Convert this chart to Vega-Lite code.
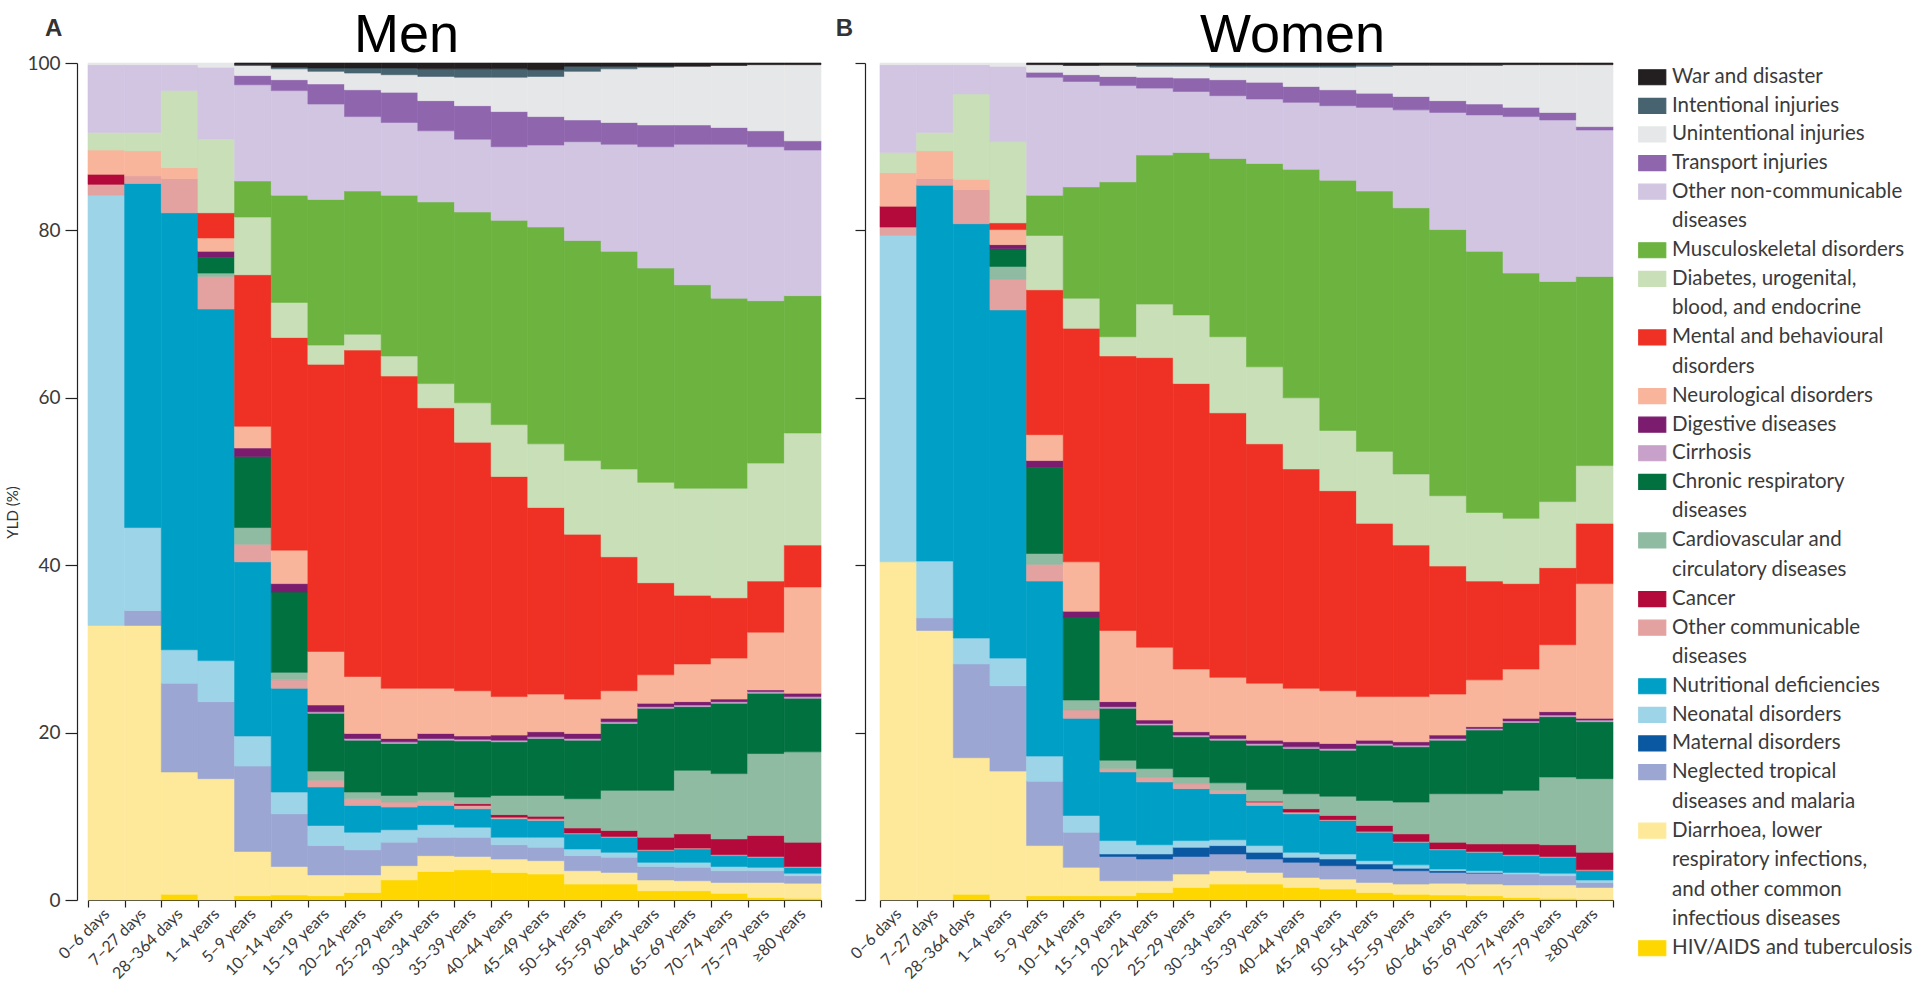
{
"$schema": "https://vega.github.io/schema/vega-lite/v6.json",
"background": "white",
"padding": {"left": 5, "top": 8, "right": 0, "bottom": 0},
"datasets": {
"causes": [
{"k":"W","name":"War and disaster"},
{"k":"I","name":"Intentional injuries"},
{"k":"U","name":"Unintentional injuries"},
{"k":"T","name":"Transport injuries"},
{"k":"NC","name":"Other non-communicable|diseases"},
{"k":"Mu","name":"Musculoskeletal disorders"},
{"k":"Db","name":"Diabetes, urogenital,|blood, and endocrine"},
{"k":"Me","name":"Mental and behavioural|disorders"},
{"k":"Nr","name":"Neurological disorders"},
{"k":"Dg","name":"Digestive diseases"},
{"k":"Ci","name":"Cirrhosis"},
{"k":"CR","name":"Chronic respiratory|diseases"},
{"k":"Cv","name":"Cardiovascular and|circulatory diseases"},
{"k":"Ca","name":"Cancer"},
{"k":"OC","name":"Other communicable|diseases"},
{"k":"Nu","name":"Nutritional deficiencies"},
{"k":"Ne","name":"Neonatal disorders"},
{"k":"Ma","name":"Maternal disorders"},
{"k":"N","name":"Neglected tropical|diseases and malaria"},
{"k":"D","name":"Diarrhoea, lower|respiratory infections,|and other common|infectious diseases"},
{"k":"H","name":"HIV/AIDS and tuberculosis"}
],
"yld": [
{"sex":"Men","age":"0–6 days","H":0,"D":32.8,"N":0,"Ma":0,"Ne":51.4,"Nu":0,"OC":1.3,"Ca":1.2,"Cv":0,"CR":0,"Ci":0,"Dg":0,"Nr":2.9,"Me":0,"Db":2.1,"Mu":0,"NC":8.1,"T":0,"U":0.2,"I":0,"W":0},
{"sex":"Men","age":"7–27 days","H":0,"D":32.8,"N":1.8,"Ma":0,"Ne":9.9,"Nu":41.1,"OC":0.9,"Ca":0,"Cv":0,"CR":0,"Ci":0,"Dg":0,"Nr":3.0,"Me":0,"Db":2.2,"Mu":0,"NC":8.1,"T":0,"U":0.2,"I":0,"W":0},
{"sex":"Men","age":"28–364 days","H":0.7,"D":14.6,"N":10.6,"Ma":0,"Ne":4.0,"Nu":52.2,"OC":4.1,"Ca":0,"Cv":0,"CR":0,"Ci":0,"Dg":0,"Nr":1.3,"Me":0,"Db":9.2,"Mu":0,"NC":3.1,"T":0,"U":0.2,"I":0,"W":0},
{"sex":"Men","age":"1–4 years","H":0,"D":14.5,"N":9.2,"Ma":0,"Ne":4.9,"Nu":42.0,"OC":3.9,"Ca":0,"Cv":0.4,"CR":1.9,"Ci":0,"Dg":0.7,"Nr":1.6,"Me":3.0,"Db":8.8,"Mu":0,"NC":8.6,"T":0,"U":0.5,"I":0,"W":0},
{"sex":"Men","age":"5–9 years","H":0.5,"D":5.3,"N":10.2,"Ma":0,"Ne":3.6,"Nu":20.8,"OC":2.1,"Ca":0,"Cv":2.0,"CR":8.5,"Ci":0,"Dg":1.0,"Nr":2.6,"Me":18.1,"Db":6.9,"Mu":4.3,"NC":11.5,"T":1.1,"U":1.2,"I":0.1,"W":0.2},
{"sex":"Men","age":"10–14 years","H":0.6,"D":3.4,"N":6.3,"Ma":0,"Ne":2.6,"Nu":12.4,"OC":1.0,"Ca":0,"Cv":0.9,"CR":9.6,"Ci":0,"Dg":1.0,"Nr":4.0,"Me":25.4,"Db":4.2,"Mu":12.8,"NC":12.5,"T":1.3,"U":1.3,"I":0.2,"W":0.5},
{"sex":"Men","age":"15–19 years","H":0.5,"D":2.5,"N":3.5,"Ma":0,"Ne":2.4,"Nu":4.6,"OC":0.8,"Ca":0,"Cv":1.1,"CR":6.9,"Ci":0.2,"Dg":0.8,"Nr":6.4,"Me":34.3,"Db":2.3,"Mu":17.4,"NC":11.4,"T":2.4,"U":1.5,"I":0.4,"W":0.6},
{"sex":"Men","age":"20–24 years","H":0.9,"D":2.1,"N":3.0,"Ma":0,"Ne":2.1,"Nu":3.2,"OC":0.8,"Ca":0,"Cv":0.8,"CR":6.2,"Ci":0.2,"Dg":0.6,"Nr":6.8,"Me":39.0,"Db":1.9,"Mu":17.1,"NC":8.9,"T":3.2,"U":2.0,"I":0.6,"W":0.6},
{"sex":"Men","age":"25–29 years","H":2.4,"D":1.7,"N":2.8,"Ma":0,"Ne":1.5,"Nu":2.7,"OC":0.6,"Ca":0,"Cv":0.8,"CR":6.2,"Ci":0.2,"Dg":0.4,"Nr":6.0,"Me":37.3,"Db":2.4,"Mu":19.2,"NC":8.7,"T":3.6,"U":2.1,"I":0.8,"W":0.6},
{"sex":"Men","age":"30–34 years","H":3.4,"D":1.9,"N":2.2,"Ma":0,"Ne":1.5,"Nu":2.3,"OC":0.6,"Ca":0,"Cv":1.0,"CR":6.2,"Ci":0.2,"Dg":0.6,"Nr":5.4,"Me":33.5,"Db":2.9,"Mu":21.7,"NC":8.5,"T":3.6,"U":2.9,"I":0.9,"W":0.7},
{"sex":"Men","age":"35–39 years","H":3.6,"D":1.6,"N":2.3,"Ma":0,"Ne":1.2,"Nu":2.2,"OC":0.4,"Ca":0.2,"Cv":0.8,"CR":6.7,"Ci":0.2,"Dg":0.4,"Nr":5.4,"Me":29.7,"Db":4.7,"Mu":22.8,"NC":8.7,"T":4.0,"U":3.4,"I":1.0,"W":0.7},
{"sex":"Men","age":"40–44 years","H":3.3,"D":1.6,"N":1.7,"Ma":0,"Ne":0.9,"Nu":2.2,"OC":0.2,"Ca":0.3,"Cv":2.3,"CR":6.4,"Ci":0.2,"Dg":0.6,"Nr":4.6,"Me":26.3,"Db":6.2,"Mu":24.4,"NC":8.8,"T":4.2,"U":4.1,"I":1.0,"W":0.7},
{"sex":"Men","age":"45–49 years","H":3.1,"D":1.6,"N":1.6,"Ma":0,"Ne":1.2,"Nu":2.0,"OC":0.2,"Ca":0.3,"Cv":2.5,"CR":6.8,"Ci":0.2,"Dg":0.6,"Nr":4.5,"Me":22.3,"Db":7.6,"Mu":25.9,"NC":9.8,"T":3.4,"U":4.8,"I":0.8,"W":0.8},
{"sex":"Men","age":"50–54 years","H":1.9,"D":1.6,"N":1.8,"Ma":0,"Ne":0.8,"Nu":1.8,"OC":0.1,"Ca":0.6,"Cv":3.5,"CR":7.0,"Ci":0.2,"Dg":0.6,"Nr":4.1,"Me":19.7,"Db":8.8,"Mu":26.3,"NC":11.8,"T":2.6,"U":5.8,"I":0.6,"W":0.4},
{"sex":"Men","age":"55–59 years","H":1.9,"D":1.4,"N":1.8,"Ma":0,"Ne":0.6,"Nu":1.8,"OC":0.1,"Ca":0.7,"Cv":4.8,"CR":8.0,"Ci":0.2,"Dg":0.4,"Nr":3.3,"Me":16.0,"Db":10.5,"Mu":26.0,"NC":12.8,"T":2.6,"U":6.4,"I":0.3,"W":0.4},
{"sex":"Men","age":"60–64 years","H":1.1,"D":1.3,"N":1.6,"Ma":0,"Ne":0.5,"Nu":1.4,"OC":0.1,"Ca":1.5,"Cv":5.6,"CR":9.8,"Ci":0.2,"Dg":0.4,"Nr":3.4,"Me":11.0,"Db":12.0,"Mu":25.6,"NC":14.5,"T":2.6,"U":6.9,"I":0.1,"W":0.4},
{"sex":"Men","age":"65–69 years","H":1.1,"D":1.2,"N":1.6,"Ma":0,"Ne":0.6,"Nu":1.6,"OC":0.1,"Ca":1.7,"Cv":7.6,"CR":7.6,"Ci":0.2,"Dg":0.4,"Nr":4.5,"Me":8.2,"Db":12.8,"Mu":24.3,"NC":16.8,"T":2.3,"U":7.0,"I":0,"W":0.4},
{"sex":"Men","age":"70–74 years","H":0.8,"D":1.3,"N":1.4,"Ma":0,"Ne":0.5,"Nu":1.3,"OC":0.1,"Ca":1.9,"Cv":7.8,"CR":8.4,"Ci":0.2,"Dg":0.3,"Nr":4.9,"Me":7.2,"Db":13.1,"Mu":22.7,"NC":18.4,"T":2.0,"U":7.4,"I":0,"W":0.3},
{"sex":"Men","age":"75–79 years","H":0.3,"D":1.8,"N":1.4,"Ma":0,"Ne":0.4,"Nu":1.2,"OC":0.1,"Ca":2.5,"Cv":9.8,"CR":7.2,"Ci":0.2,"Dg":0.2,"Nr":6.9,"Me":6.1,"Db":14.1,"Mu":19.4,"NC":18.4,"T":1.9,"U":7.9,"I":0,"W":0.2},
{"sex":"Men","age":"≥80 years","H":0.2,"D":1.8,"N":0.9,"Ma":0,"Ne":0.3,"Nu":0.7,"OC":0.1,"Ca":2.9,"Cv":10.8,"CR":6.4,"Ci":0.2,"Dg":0.4,"Nr":12.7,"Me":5.0,"Db":13.4,"Mu":16.4,"NC":17.4,"T":1.1,"U":9.1,"I":0,"W":0.2},
{"sex":"Women","age":"0–6 days","H":0,"D":40.4,"N":0,"Ma":0,"Ne":39.0,"Nu":0,"OC":1.0,"Ca":2.5,"Cv":0,"CR":0,"Ci":0,"Dg":0,"Nr":4.0,"Me":0,"Db":2.4,"Mu":0,"NC":10.5,"T":0,"U":0.2,"I":0,"W":0},
{"sex":"Women","age":"7–27 days","H":0,"D":32.2,"N":1.5,"Ma":0,"Ne":6.8,"Nu":44.9,"OC":0.8,"Ca":0,"Cv":0,"CR":0,"Ci":0,"Dg":0,"Nr":3.3,"Me":0,"Db":2.2,"Mu":0,"NC":8.1,"T":0,"U":0.2,"I":0,"W":0},
{"sex":"Women","age":"28–364 days","H":0.7,"D":16.3,"N":11.2,"Ma":0,"Ne":3.1,"Nu":49.5,"OC":4.1,"Ca":0,"Cv":0,"CR":0,"Ci":0,"Dg":0,"Nr":1.2,"Me":0,"Db":10.2,"Mu":0,"NC":3.5,"T":0,"U":0.2,"I":0,"W":0},
{"sex":"Women","age":"1–4 years","H":0,"D":15.4,"N":10.2,"Ma":0,"Ne":3.3,"Nu":41.6,"OC":3.7,"Ca":0,"Cv":1.5,"CR":2.1,"Ci":0,"Dg":0.5,"Nr":1.8,"Me":0.8,"Db":9.7,"Mu":0,"NC":9.0,"T":0,"U":0.4,"I":0,"W":0},
{"sex":"Women","age":"5–9 years","H":0.5,"D":6.0,"N":7.7,"Ma":0,"Ne":3.0,"Nu":20.9,"OC":2.0,"Ca":0,"Cv":1.3,"CR":10.3,"Ci":0,"Dg":0.8,"Nr":3.1,"Me":17.3,"Db":6.5,"Mu":4.8,"NC":14.1,"T":0.6,"U":0.9,"I":0,"W":0.2},
{"sex":"Women","age":"10–14 years","H":0.5,"D":3.4,"N":4.2,"Ma":0,"Ne":2.0,"Nu":11.6,"OC":1.0,"Ca":0,"Cv":1.2,"CR":9.9,"Ci":0,"Dg":0.7,"Nr":5.9,"Me":27.9,"Db":3.6,"Mu":13.3,"NC":12.6,"T":0.8,"U":1.1,"I":0,"W":0.3},
{"sex":"Women","age":"15–19 years","H":0.5,"D":1.8,"N":2.9,"Ma":0.3,"Ne":1.6,"Nu":8.2,"OC":0.4,"Ca":0,"Cv":1.0,"CR":6.2,"Ci":0.2,"Dg":0.6,"Nr":8.5,"Me":32.8,"Db":2.3,"Mu":18.5,"NC":11.5,"T":1.1,"U":1.3,"I":0.1,"W":0.2},
{"sex":"Women","age":"20–24 years","H":0.9,"D":1.4,"N":2.6,"Ma":0.6,"Ne":1.1,"Nu":7.5,"OC":0.6,"Ca":0,"Cv":1.0,"CR":5.2,"Ci":0.2,"Dg":0.4,"Nr":8.7,"Me":34.6,"Db":6.4,"Mu":17.8,"NC":8.0,"T":1.3,"U":1.3,"I":0.2,"W":0.2},
{"sex":"Women","age":"25–29 years","H":1.5,"D":1.6,"N":2.1,"Ma":1.1,"Ne":0.8,"Nu":6.2,"OC":0.6,"Ca":0,"Cv":0.8,"CR":4.8,"Ci":0.2,"Dg":0.4,"Nr":7.5,"Me":34.1,"Db":8.2,"Mu":19.4,"NC":7.3,"T":1.6,"U":1.4,"I":0.2,"W":0.2},
{"sex":"Women","age":"30–34 years","H":1.9,"D":1.6,"N":2.0,"Ma":1.0,"Ne":0.7,"Nu":5.5,"OC":0.4,"Ca":0,"Cv":0.9,"CR":5.1,"Ci":0.2,"Dg":0.4,"Nr":6.9,"Me":31.6,"Db":9.1,"Mu":21.3,"NC":7.5,"T":1.9,"U":1.5,"I":0.2,"W":0.3},
{"sex":"Women","age":"35–39 years","H":1.9,"D":1.4,"N":1.6,"Ma":0.8,"Ne":0.8,"Nu":4.8,"OC":0.4,"Ca":0.1,"Cv":1.4,"CR":5.3,"Ci":0.2,"Dg":0.4,"Nr":6.8,"Me":28.6,"Db":9.2,"Mu":24.3,"NC":7.7,"T":2.0,"U":1.8,"I":0.2,"W":0.3},
{"sex":"Women","age":"40–44 years","H":1.5,"D":1.2,"N":1.8,"Ma":0.6,"Ne":0.6,"Nu":4.6,"OC":0.2,"Ca":0.4,"Cv":1.8,"CR":5.4,"Ci":0.2,"Dg":0.6,"Nr":6.4,"Me":26.2,"Db":8.5,"Mu":27.3,"NC":8.0,"T":1.9,"U":2.3,"I":0.2,"W":0.3},
{"sex":"Women","age":"45–49 years","H":1.3,"D":1.2,"N":1.6,"Ma":0.8,"Ne":0.6,"Nu":4.0,"OC":0.1,"Ca":0.5,"Cv":2.3,"CR":5.5,"Ci":0.2,"Dg":0.6,"Nr":6.3,"Me":23.9,"Db":7.2,"Mu":29.9,"NC":8.9,"T":1.9,"U":2.7,"I":0.2,"W":0.3},
{"sex":"Women","age":"50–54 years","H":0.9,"D":1.2,"N":1.6,"Ma":0.6,"Ne":0.4,"Nu":3.4,"OC":0.1,"Ca":0.7,"Cv":3.0,"CR":6.6,"Ci":0.2,"Dg":0.4,"Nr":5.2,"Me":20.7,"Db":8.6,"Mu":31.1,"NC":10.0,"T":1.7,"U":3.2,"I":0.2,"W":0.2},
{"sex":"Women","age":"55–59 years","H":0.7,"D":1.2,"N":1.6,"Ma":0.3,"Ne":0.4,"Nu":2.7,"OC":0.1,"Ca":0.9,"Cv":3.8,"CR":6.6,"Ci":0.2,"Dg":0.4,"Nr":5.4,"Me":18.1,"Db":8.5,"Mu":31.8,"NC":11.7,"T":1.6,"U":3.7,"I":0.1,"W":0.2},
{"sex":"Women","age":"60–64 years","H":0.6,"D":1.4,"N":1.3,"Ma":0.2,"Ne":0.2,"Nu":2.3,"OC":0.1,"Ca":0.8,"Cv":5.8,"CR":6.4,"Ci":0.2,"Dg":0.4,"Nr":4.9,"Me":15.3,"Db":8.4,"Mu":31.8,"NC":14.0,"T":1.4,"U":4.2,"I":0.1,"W":0.2},
{"sex":"Women","age":"65–69 years","H":0.5,"D":1.4,"N":1.3,"Ma":0.1,"Ne":0.2,"Nu":2.2,"OC":0.1,"Ca":0.9,"Cv":6.0,"CR":7.6,"Ci":0.2,"Dg":0.2,"Nr":5.6,"Me":11.8,"Db":8.2,"Mu":31.2,"NC":16.3,"T":1.3,"U":4.6,"I":0.1,"W":0.2},
{"sex":"Women","age":"70–74 years","H":0.3,"D":1.5,"N":1.3,"Ma":0,"Ne":0.2,"Nu":2.0,"OC":0.1,"Ca":1.3,"Cv":6.4,"CR":8.1,"Ci":0.2,"Dg":0.3,"Nr":5.9,"Me":10.2,"Db":7.8,"Mu":29.3,"NC":18.7,"T":1.1,"U":5.1,"I":0,"W":0.2},
{"sex":"Women","age":"75–79 years","H":0.2,"D":1.6,"N":1.1,"Ma":0,"Ne":0.3,"Nu":1.9,"OC":0.1,"Ca":1.4,"Cv":8.1,"CR":7.2,"Ci":0.2,"Dg":0.4,"Nr":8.0,"Me":9.2,"Db":7.9,"Mu":26.3,"NC":19.3,"T":0.9,"U":5.7,"I":0,"W":0.2},
{"sex":"Women","age":"≥80 years","H":0.1,"D":1.4,"N":0.6,"Ma":0,"Ne":0.3,"Nu":1.1,"OC":0.1,"Ca":2.1,"Cv":8.8,"CR":6.8,"Ci":0.2,"Dg":0.2,"Nr":16.1,"Me":7.2,"Db":6.9,"Mu":22.6,"NC":17.5,"T":0.4,"U":7.4,"I":0,"W":0.2}
]
},
"config": {
"view": {"stroke": null},
"font": "Lato",
"axis": {"grid": false, "domainColor": "#222", "tickColor": "#222", "labelColor": "#3a3a3a", "labelFont": "Lato", "titleFont": "Lato", "domainWidth": 1.2, "tickWidth": 1.2},
"title": {"font": "Liberation Sans", "color": "#000"},
"concat": {"spacing": 13},
"legend": {
"orient": "right", "offset": 24, "padding": 4, "title": null,
"symbolType": "M-1.8,-1H1.8V1H-1.8Z", "symbolSize": 225, "symbolStrokeColor": "#444", "symbolStrokeWidth": 1.2, "symbolOpacity": 1, "symbolFillOpacity": 1,
"labelFont": "Lato", "labelFontSize": 20.5, "labelColor": "#3a3a3a", "labelLimit": 400, "labelOffset": 9.5,
"rowPadding": 7.6
}
},
"hconcat": [
{
"title": {"text": "A", "anchor": "start", "fontSize": 24, "fontWeight": "bold", "color": "#333", "offset": -32, "dx": 39},
"vconcat": [
{
"title": {"text": "Men", "fontSize": 54, "fontWeight": "normal", "frame": "group", "dx": -48, "offset": -9},
"width": 733, "height": 837,
"data": {"name": "yld"},
"transform": [
{"filter": "datum.sex === 'Men'"},
{"fold": ["H","D","N","Ma","Ne","Nu","OC","Ca","Cv","CR","Ci","Dg","Nr","Me","Db","Mu","NC","T","U","I","W"], "as": ["k","v"]},
{"filter": "datum.v > 0"},
{"lookup": "k", "from": {"data": {"name": "causes"}, "key": "k", "fields": ["name"]}},
{"calculate": "indexof(['H','D','N','Ma','Ne','Nu','OC','Ca','Cv','CR','Ci','Dg','Nr','Me','Db','Mu','NC','T','U','I','W'], datum.k)", "as": "o"}
],
"mark": {"type": "bar", "strokeWidth": 0.6},
"encoding": {
"x": {"field": "age", "type": "ordinal", "sort": ["0–6 days","7–27 days","28–364 days","1–4 years","5–9 years","10–14 years","15–19 years","20–24 years","25–29 years","30–34 years","35–39 years","40–44 years","45–49 years","50–54 years","55–59 years","60–64 years","65–69 years","70–74 years","75–79 years","≥80 years"],
 "scale": {"paddingInner": 0, "paddingOuter": 0},
 "axis": {"title": null, "labelAngle": -45, "labelAlign": "right", "labelBaseline": "middle", "labelFontSize": 16, "tickBand": "extent", "tickSize": 7, "labelPadding": 4}},
"y": {"field": "v", "type": "quantitative", "stack": "zero", "scale": {"domain": [0, 100], "nice": false},
 "axis": {"title": "YLD (%)", "values": [0,20,40,60,80,100], "offset": 11, "tickSize": 12, "labelPadding": 5, "labelFontSize": 19, "titleFontSize": 15, "titleFontWeight": "normal", "titleColor": "#333", "titlePadding": 6, "titleY": 449}},
"color": {"field": "name", "type": "nominal",
 "scale": {"domain": ["War and disaster","Intentional injuries","Unintentional injuries","Transport injuries","Other non-communicable|diseases","Musculoskeletal disorders","Diabetes, urogenital,|blood, and endocrine","Mental and behavioural|disorders","Neurological disorders","Digestive diseases","Cirrhosis","Chronic respiratory|diseases","Cardiovascular and|circulatory diseases","Cancer","Other communicable|diseases","Nutritional deficiencies","Neonatal disorders","Maternal disorders","Neglected tropical|diseases and malaria","Diarrhoea, lower|respiratory infections,|and other common|infectious diseases","HIV/AIDS and tuberculosis"],
  "range": ["#231f20","#46636f","#e6e7e8","#8f66ae","#d1c5e2","#6cb33f","#c8dfb8","#ee3124","#f8b59b","#7b1c6f","#c7a1c9","#00713f","#8fbba3","#b30a3b","#e3a19f","#00a0c6","#9dd4e7","#0b58a2","#9ca6d2","#fee99b","#fed700"]},
 "legend": {"labelExpr": "split(datum.label, '|')", "labelBaseline": "top", "encode": {"labels": {"update": {"lineHeight": {"value": 29.6}, "dy": {"value": -10}}}}}},
"stroke": {"field": "name", "type": "nominal", "legend": null,
 "scale": {"domain": ["War and disaster","Intentional injuries","Unintentional injuries","Transport injuries","Other non-communicable|diseases","Musculoskeletal disorders","Diabetes, urogenital,|blood, and endocrine","Mental and behavioural|disorders","Neurological disorders","Digestive diseases","Cirrhosis","Chronic respiratory|diseases","Cardiovascular and|circulatory diseases","Cancer","Other communicable|diseases","Nutritional deficiencies","Neonatal disorders","Maternal disorders","Neglected tropical|diseases and malaria","Diarrhoea, lower|respiratory infections,|and other common|infectious diseases","HIV/AIDS and tuberculosis"],
  "range": ["#231f20","#46636f","#e6e7e8","#8f66ae","#d1c5e2","#6cb33f","#c8dfb8","#ee3124","#f8b59b","#7b1c6f","#c7a1c9","#00713f","#8fbba3","#b30a3b","#e3a19f","#00a0c6","#9dd4e7","#0b58a2","#9ca6d2","#fee99b","#fed700"]}},
"order": {"field": "o", "type": "quantitative", "sort": "ascending"}
}
}
]
},
{
"title": {"text": "B", "anchor": "start", "fontSize": 24, "fontWeight": "bold", "color": "#333", "offset": -32, "dx": -12},
"vconcat": [
{
"title": {"text": "Women", "fontSize": 54, "fontWeight": "normal", "frame": "group", "dx": 46, "offset": -0.5},
"width": 733, "height": 837,
"data": {"name": "yld"},
"transform": [
{"filter": "datum.sex === 'Women'"},
{"fold": ["H","D","N","Ma","Ne","Nu","OC","Ca","Cv","CR","Ci","Dg","Nr","Me","Db","Mu","NC","T","U","I","W"], "as": ["k","v"]},
{"filter": "datum.v > 0"},
{"lookup": "k", "from": {"data": {"name": "causes"}, "key": "k", "fields": ["name"]}},
{"calculate": "indexof(['H','D','N','Ma','Ne','Nu','OC','Ca','Cv','CR','Ci','Dg','Nr','Me','Db','Mu','NC','T','U','I','W'], datum.k)", "as": "o"}
],
"mark": {"type": "bar", "strokeWidth": 0.6},
"encoding": {
"x": {"field": "age", "type": "ordinal", "sort": ["0–6 days","7–27 days","28–364 days","1–4 years","5–9 years","10–14 years","15–19 years","20–24 years","25–29 years","30–34 years","35–39 years","40–44 years","45–49 years","50–54 years","55–59 years","60–64 years","65–69 years","70–74 years","75–79 years","≥80 years"],
 "scale": {"paddingInner": 0, "paddingOuter": 0},
 "axis": {"title": null, "labelAngle": -45, "labelAlign": "right", "labelBaseline": "middle", "labelFontSize": 16, "tickBand": "extent", "tickSize": 7, "labelPadding": 4}},
"y": {"field": "v", "type": "quantitative", "stack": "zero", "scale": {"domain": [0, 100], "nice": false},
 "axis": {"title": null, "labels": false, "values": [0,20,40,60,80,100], "offset": 15, "tickSize": 10}},
"color": {"field": "name", "type": "nominal",
 "scale": {"domain": ["War and disaster","Intentional injuries","Unintentional injuries","Transport injuries","Other non-communicable|diseases","Musculoskeletal disorders","Diabetes, urogenital,|blood, and endocrine","Mental and behavioural|disorders","Neurological disorders","Digestive diseases","Cirrhosis","Chronic respiratory|diseases","Cardiovascular and|circulatory diseases","Cancer","Other communicable|diseases","Nutritional deficiencies","Neonatal disorders","Maternal disorders","Neglected tropical|diseases and malaria","Diarrhoea, lower|respiratory infections,|and other common|infectious diseases","HIV/AIDS and tuberculosis"],
  "range": ["#231f20","#46636f","#e6e7e8","#8f66ae","#d1c5e2","#6cb33f","#c8dfb8","#ee3124","#f8b59b","#7b1c6f","#c7a1c9","#00713f","#8fbba3","#b30a3b","#e3a19f","#00a0c6","#9dd4e7","#0b58a2","#9ca6d2","#fee99b","#fed700"]},
 "legend": {"labelExpr": "split(datum.label, '|')", "labelBaseline": "top", "encode": {"labels": {"update": {"lineHeight": {"value": 29.6}, "dy": {"value": -10}}}}}},
"stroke": {"field": "name", "type": "nominal", "legend": null,
 "scale": {"domain": ["War and disaster","Intentional injuries","Unintentional injuries","Transport injuries","Other non-communicable|diseases","Musculoskeletal disorders","Diabetes, urogenital,|blood, and endocrine","Mental and behavioural|disorders","Neurological disorders","Digestive diseases","Cirrhosis","Chronic respiratory|diseases","Cardiovascular and|circulatory diseases","Cancer","Other communicable|diseases","Nutritional deficiencies","Neonatal disorders","Maternal disorders","Neglected tropical|diseases and malaria","Diarrhoea, lower|respiratory infections,|and other common|infectious diseases","HIV/AIDS and tuberculosis"],
  "range": ["#231f20","#46636f","#e6e7e8","#8f66ae","#d1c5e2","#6cb33f","#c8dfb8","#ee3124","#f8b59b","#7b1c6f","#c7a1c9","#00713f","#8fbba3","#b30a3b","#e3a19f","#00a0c6","#9dd4e7","#0b58a2","#9ca6d2","#fee99b","#fed700"]}},
"order": {"field": "o", "type": "quantitative", "sort": "ascending"}
}
}
]
}
]
}
